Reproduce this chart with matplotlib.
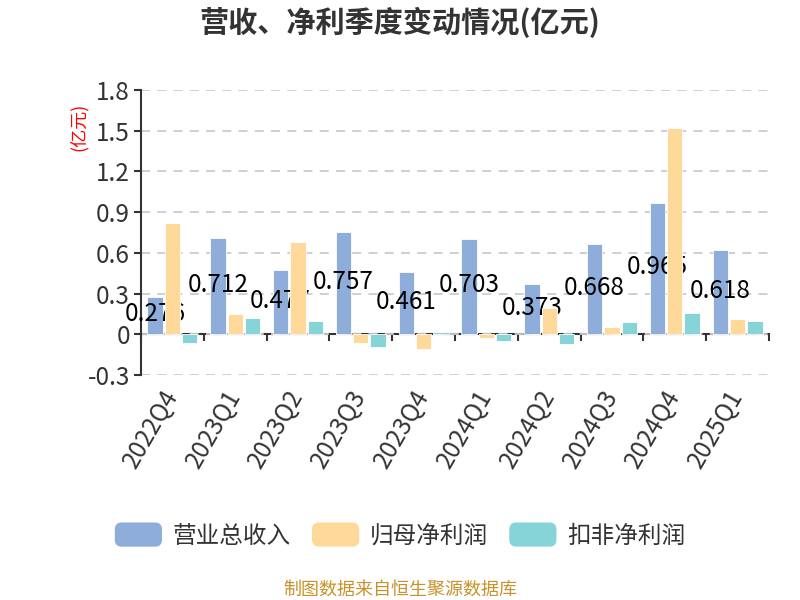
import matplotlib.pyplot as plt
import numpy as np
from matplotlib.patches import FancyBboxPatch
from matplotlib.legend_handler import HandlerPatch

plt.rcParams['font.family'] = ['Noto Sans CJK SC', 'DejaVu Sans']

# 数据（亿元）
quarters = ['2022Q4', '2023Q1', '2023Q2', '2023Q3', '2023Q4',
            '2024Q1', '2024Q2', '2024Q3', '2024Q4', '2025Q1']
revenue = [0.276, 0.712, 0.477, 0.757, 0.461, 0.703, 0.373, 0.668, 0.965, 0.618]
net_profit = [0.820, 0.148, 0.682, -0.062, -0.111, -0.027, 0.197, 0.056, 1.517, 0.115]
deducted_profit = [-0.062, 0.118, 0.096, -0.091, 0.017, -0.047, -0.072, 0.093, 0.155, 0.100]
series_names = ['营业总收入', '归母净利润', '扣非净利润']
colors = ['#8EADDA', '#FFD999', '#87D4D8']


class RoundBox(HandlerPatch):
    def create_artists(self, legend, orig_handle, xdescent, ydescent,
                       width, height, fontsize, trans):
        p = FancyBboxPatch((-xdescent, -ydescent), width, height,
                           boxstyle='round,pad=0,rounding_size=5',
                           facecolor=orig_handle.get_facecolor(),
                           edgecolor='none', transform=trans)
        return [p]


fig = plt.figure(figsize=(8, 6), dpi=100)
ax = fig.add_axes([0.17625, 0.375, 0.785, 0.475])

x = np.arange(len(quarters))
w = 0.245
step = 0.276
b1 = ax.bar(x - step, revenue, w, color=colors[0], edgecolor='white', linewidth=0.6, zorder=2)
b2 = ax.bar(x, net_profit, w, color=colors[1], edgecolor='white', linewidth=0.6, zorder=4)
b3 = ax.bar(x + step, deducted_profit, w, color=colors[2], edgecolor='white', linewidth=0.6, zorder=4)

# 数值标签（营业总收入）
for xi, v in zip(x, revenue):
    ax.text(xi - step, v / 2 + 0.01, str(v), ha='center', va='center',
            fontsize=17.5, color='black', zorder=3)

ax.set_xlim(-0.5, len(quarters) - 0.5)
ax.set_ylim(-0.3, 1.8)
ax.set_yticks(np.arange(-0.3, 1.81, 0.3))
ax.set_yticklabels(['-0.3', '0', '0.3', '0.6', '0.9', '1.2', '1.5', '1.8'])
ax.yaxis.grid(True, linestyle=(0, (5, 4)), color='#cccccc', linewidth=1.3)
ax.set_axisbelow(True)

for s in ['top', 'right', 'bottom']:
    ax.spines[s].set_visible(False)
ax.spines['left'].set_color('#333333')
ax.spines['left'].set_linewidth(1.5)
ax.tick_params(axis='y', labelsize=17.5, labelcolor='#333333', color='#333333',
               length=5, width=1.5, pad=3)

ax.set_xticks(x)
ax.set_xticklabels(quarters, rotation=60, ha='right', va='center',
                   rotation_mode='anchor', fontsize=17.5, color='#333333')
ax.tick_params(axis='x', length=0, pad=12)

# 零轴线
zero_frac = 0.3 / 2.1
sec = ax.secondary_xaxis(zero_frac)
sec.spines['bottom'].set_color('#333333')
sec.spines['bottom'].set_linewidth(1.5)
sec.set_xticks(np.arange(-0.5, len(quarters), 1.0))
sec.set_xticklabels([])
sec.tick_params(axis='x', direction='out', length=5, width=1.5, color='#333333')

ax.text(-0.1, 0.87, '(亿元)', transform=ax.transAxes, rotation=90,
        ha='center', va='center', fontsize=13, color='red')

fig.text(0.5, 1 - 22 / 600, '营收、净利季度变动情况(亿元)', ha='center', va='center',
         fontsize=21, fontweight='bold', color='#333333')

handles = [b1.patches[0], b2.patches[0], b3.patches[0]]
fig.legend(handles, series_names, loc='center', bbox_to_anchor=(0.5, 1 - 535 / 600),
           ncol=3, frameon=False, fontsize=17, labelcolor='#333333',
           handlelength=2.0, handleheight=1.2, handletextpad=0.45,
           columnspacing=0.9, handler_map={h: RoundBox() for h in handles})

fig.text(0.5, 1 - 590 / 600, '制图数据来自恒生聚源数据库', ha='center', va='center',
         fontsize=13, color='#C8922A')

fig.savefig('out.png', dpi=100)
